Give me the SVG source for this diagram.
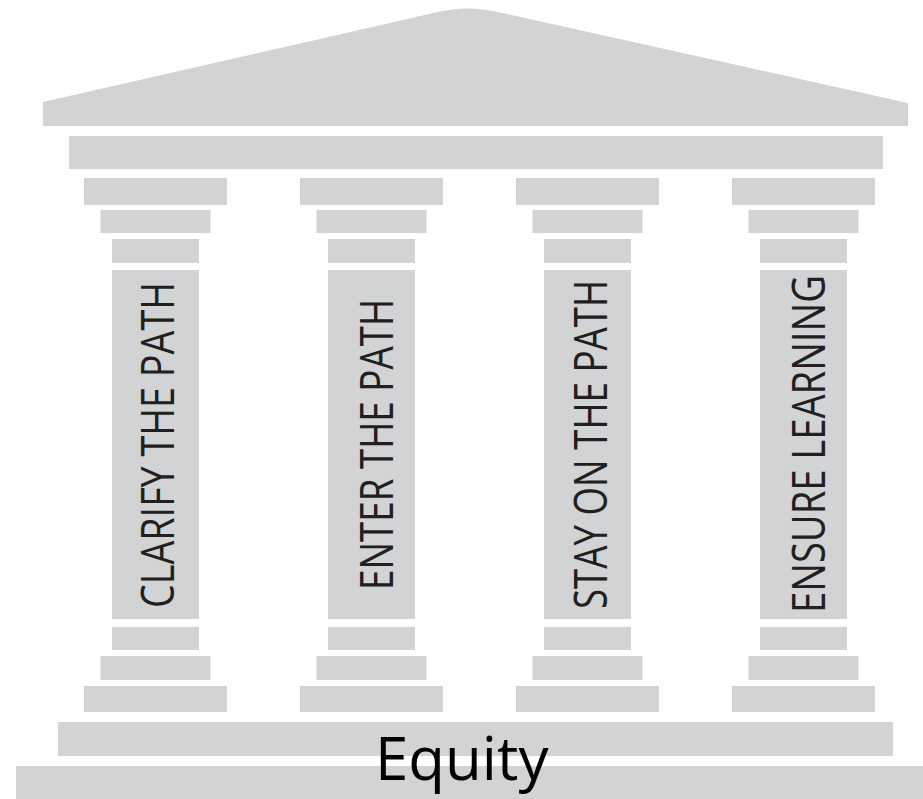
<svg xmlns="http://www.w3.org/2000/svg" xmlns:xlink="http://www.w3.org/1999/xlink" width="923" height="799" viewBox="0 0 923 799">
<style>
.s{fill:#d1d3d4}
.lbl{font-family:"Open Sans","DejaVu Sans",sans-serif;font-size:46px;fill:#231f20;text-anchor:middle}
.eq{font-family:"Open Sans","DejaVu Sans",sans-serif;font-size:60px;fill:#000000}
</style>
<defs>
<g id="pillarShape">
<rect class="s" x="-71.5" y="178" width="143" height="27"/>
<rect class="s" x="-55" y="210" width="110" height="23"/>
<rect class="s" x="-43.5" y="239" width="87" height="24"/>
<rect class="s" x="-43.5" y="270" width="87" height="349"/>
<rect class="s" x="-43.5" y="627" width="87" height="23"/>
<rect class="s" x="-55" y="656" width="110" height="24"/>
<rect class="s" x="-71.5" y="686" width="143" height="26"/>
</g>
</defs>
<rect width="923" height="799" fill="#ffffff"/>
<g id="roof">
<path class="s" d="M43,126 L43,102 L440,11.5 Q467.6,5.2 500,12.4 L908,103 L908,126 Z"/>
<rect class="s" x="69" y="136" width="814" height="33"/>
</g>
<g id="pillar-clarify">
<use xlink:href="#pillarShape" href="#pillarShape" transform="translate(155.5,0)"/>
<text class="lbl" transform="translate(174,445) rotate(-90)" textLength="326" lengthAdjust="spacingAndGlyphs">CLARIFY THE PATH</text>
</g>
<g id="pillar-enter">
<use xlink:href="#pillarShape" href="#pillarShape" transform="translate(371.5,0)"/>
<text class="lbl" transform="translate(393,444.5) rotate(-90)" textLength="291" lengthAdjust="spacingAndGlyphs">ENTER THE PATH</text>
</g>
<g id="pillar-stay">
<use xlink:href="#pillarShape" href="#pillarShape" transform="translate(587.5,0)"/>
<text class="lbl" transform="translate(607,444.5) rotate(-90)" textLength="329" lengthAdjust="spacingAndGlyphs">STAY ON THE PATH</text>
</g>
<g id="pillar-ensure">
<use xlink:href="#pillarShape" href="#pillarShape" transform="translate(803.5,0)"/>
<text class="lbl" transform="translate(825,444) rotate(-90)" textLength="338" lengthAdjust="spacingAndGlyphs">ENSURE LEARNING</text>
</g>
<g id="base">
<rect class="s" x="58" y="722" width="835" height="34"/>
<rect class="s" x="16" y="766" width="907" height="33"/>
<text class="eq" x="375" y="780">Equity</text>
</g>
<g id="connectors"/>
</svg>
